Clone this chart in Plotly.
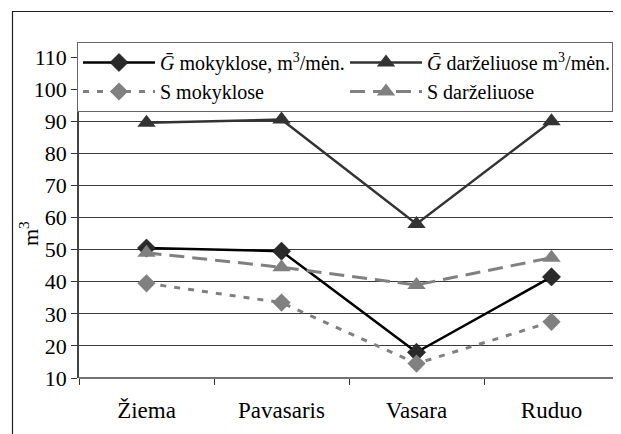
import plotly.graph_objects as go

categories = ["Žiema", "Pavasaris", "Vasara", "Ruduo"]
g_mokyklose = [50.5, 49.5, 18, 41.5]
g_darzeliuose = [89.5, 90.5, 58, 90]
s_mokyklose = [39.5, 33.5, 14.5, 27.5]
s_darzeliuose = [49, 44.5, 39, 47.5]
y_ticks = [10, 20, 30, 40, 50, 60, 70, 80, 90, 100, 110]

FONT = "Liberation Serif"
OFF = 8  # page body margin
W, H = 621 - OFF, 434 - OFF
PL, PR, PT, PB = 79, 619, 57, 378

ML, MR, MT, MB = PL - OFF, W - (PR - OFF), PT - OFF, H - (PB - OFF)
PW = W - ML - MR
PH = H - MT - MB

def px_x(p):
    return (p - PL) / PW

def px_y(p):
    return (PB - p) / PH

fig = go.Figure()
fig.add_trace(go.Scatter(
    x=categories, y=g_mokyklose, name="<i>G\u0304</i> mokyklose, m<sup>3</sup>/mėn.",
    mode="lines+markers", line=dict(color="#000000", width=2.5),
    marker=dict(symbol="diamond", size=14, color="#2a2a2a", line=dict(color="#000", width=0.5))))
fig.add_trace(go.Scatter(
    x=categories, y=g_darzeliuose, name="<i>G\u0304</i> darželiuose m<sup>3</sup>/mėn.",
    mode="lines+markers", line=dict(color="#333333", width=2.5),
    marker=dict(symbol="triangle-up", size=16, color="#333333")))
fig.add_trace(go.Scatter(
    x=categories, y=s_mokyklose, name="S mokyklose",
    mode="lines+markers", line=dict(color="#808080", width=3, dash="6px,8px"),
    marker=dict(symbol="diamond", size=14, color="#808080")))
fig.add_trace(go.Scatter(
    x=categories, y=s_darzeliuose, name="S darželiuose",
    mode="lines+markers", line=dict(color="#808080", width=3, dash="15px,8px"),
    marker=dict(symbol="triangle-up", size=16, color="#808080")))

fig.update_layout(
    width=W, height=H,
    margin=dict(l=ML, r=MR, t=MT, b=MB, autoexpand=False),
    paper_bgcolor="white", plot_bgcolor="white",
    font=dict(family=FONT, size=20, color="#000"),
    showlegend=True,
    legend=dict(
        orientation="h", x=px_x(77), y=px_y(42), xanchor="left", yanchor="top",
        bgcolor="white", bordercolor="#666", borderwidth=1,
        entrywidth=180, font=dict(family=FONT, size=20),
        itemwidth=72,
    ),
    xaxis=dict(
        showline=False, showgrid=False, ticks="outside", tickson="boundaries",
        ticklen=6, tickcolor="#333", tickfont=dict(family=FONT, size=23),
        ticklabelstandoff=16, range=[-0.5, 3.5], fixedrange=True,
    ),
    yaxis=dict(
        range=[10, 110], tickvals=y_ticks, showgrid=True, gridcolor="#3a3a3a", gridwidth=1,
        showline=True, linecolor="#444", linewidth=1.5, ticks="outside", ticklen=6,
        tickcolor="#333", tickfont=dict(family=FONT, size=22), zeroline=False,
    ),
    shapes=[
        dict(type="rect", xref="paper", yref="paper",
             x0=px_x(12.5), x1=px_x(619.5), y0=px_y(440), y1=px_y(11.5),
             line=dict(color="#222", width=1.2), fillcolor="rgba(0,0,0,0)", layer="above"),
        dict(type="line", xref="paper", yref="paper",
             x0=0, x1=1, y0=0, y1=0, line=dict(color="#444", width=1.5)),
    ],
    annotations=[
        dict(text="m<sup>3</sup>", textangle=-90, xref="paper", yref="paper",
             x=px_x(29), y=px_y(234), xanchor="center", yanchor="middle", showarrow=False,
             font=dict(family=FONT, size=22)),
    ],
)

fig.write_html("out.html")
